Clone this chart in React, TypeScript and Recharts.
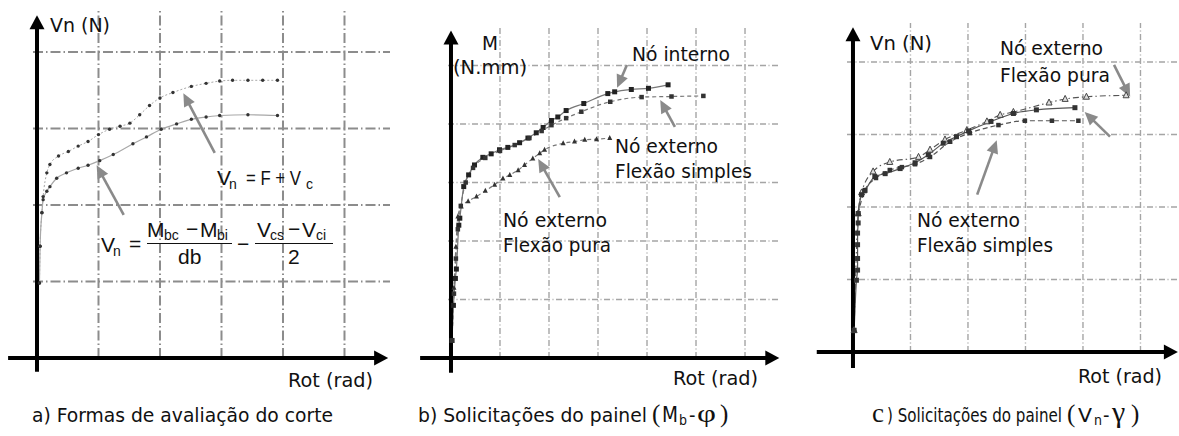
import React from 'react';
import { LineChart, Line, XAxis, YAxis, ReferenceLine } from 'recharts';

// all values are in grid units (one dashed grid cell = 1)

// a) Formas de avaliação do corte
const rotA_total = [0.04, 0.05, 0.08, 0.1, 0.16, 0.21, 0.35, 0.51, 0.67, 0.83, 1.0, 1.18, 1.35, 1.51, 1.67, 1.83, 2.0, 2.21, 2.51, 2.75, 2.97, 3.18, 3.43, 3.67, 3.91];
const vnA_total = [0.98, 1.46, 1.9, 2.11, 2.42, 2.53, 2.64, 2.7, 2.77, 2.83, 2.92, 2.99, 3.03, 3.07, 3.18, 3.3, 3.4, 3.47, 3.55, 3.59, 3.62, 3.63, 3.63, 3.63, 3.63];
const rotA_moment = [0.04, 0.05, 0.08, 0.1, 0.16, 0.21, 0.32, 0.48, 0.67, 0.83, 1.02, 1.24, 1.56, 1.78, 2.02, 2.27, 2.51, 2.75, 2.97, 3.43, 3.91];
const vnA_moment = [0.98, 1.46, 1.9, 2.07, 2.18, 2.24, 2.35, 2.42, 2.48, 2.52, 2.58, 2.66, 2.8, 2.89, 2.99, 3.06, 3.12, 3.15, 3.17, 3.18, 3.17];

// b) Solicitações do painel (Mb-φ)
const rotB_interno = [0.02, 0.05, 0.09, 0.11, 0.16, 0.18, 0.26, 0.36, 0.48, 0.65, 0.82, 0.99, 1.16, 1.4, 1.57, 1.74, 1.88, 2.05, 2.18, 2.35, 2.71, 3.2, 3.34, 3.68, 4.03, 4.43];
const mB_interno = [0.3, 0.9, 1.36, 1.52, 2.27, 2.39, 2.93, 3.13, 3.3, 3.43, 3.49, 3.56, 3.6, 3.68, 3.76, 3.85, 3.94, 4.06, 4.12, 4.23, 4.35, 4.52, 4.55, 4.59, 4.61, 4.67];
const rotB_simples = [0.02, 0.06, 0.1, 0.14, 0.2, 0.3, 0.45, 0.7, 1.0, 1.3, 1.6, 1.85, 2.05, 2.35, 2.66, 3.25, 3.89, 4.5, 5.15];
const mB_simples = [0.3, 1.1, 1.7, 2.2, 2.6, 3.0, 3.25, 3.42, 3.54, 3.64, 3.76, 3.88, 3.98, 4.1, 4.21, 4.38, 4.46, 4.47, 4.48];
const rotB_pura = [0.02, 0.06, 0.1, 0.14, 0.21, 0.35, 0.52, 0.7, 0.89, 1.06, 1.2, 1.37, 1.5, 1.67, 1.81, 1.91, 2.29, 2.52, 2.73, 2.97, 3.24];
const mB_pura = [0.3, 1.2, 1.9, 2.42, 2.59, 2.68, 2.76, 2.86, 2.96, 3.07, 3.13, 3.21, 3.3, 3.41, 3.5, 3.56, 3.67, 3.7, 3.73, 3.74, 3.76];

// c) Solicitações do painel (Vn-γ)
const rotC_pura = [0.02, 0.09, 0.15, 0.35, 0.64, 1.14, 1.34, 1.6, 1.98, 2.33, 2.56, 2.79, 3.41, 3.69, 4.06, 4.75];
const vnC_pura = [0.3, 1.91, 2.2, 2.49, 2.62, 2.69, 2.79, 2.93, 3.06, 3.18, 3.27, 3.31, 3.44, 3.49, 3.52, 3.54];
const rotC_simples1 = [0.02, 0.06, 0.08, 0.08, 0.08, 0.08, 0.09, 0.09, 0.15, 0.21, 0.38, 0.56, 0.82, 1.08, 1.31, 1.57, 1.8, 2.01, 2.4, 2.79, 3.19, 3.86];
const vnC_simples1 = [0.3, 0.99, 1.13, 1.29, 1.48, 1.64, 1.78, 1.91, 2.17, 2.23, 2.42, 2.46, 2.53, 2.61, 2.72, 2.88, 2.97, 3.05, 3.18, 3.29, 3.34, 3.37];
const rotC_simples2 = [0.09, 0.2, 0.4, 0.64, 0.85, 1.08, 1.34, 1.69, 2.03, 2.53, 2.99, 3.46, 3.92];
const vnC_simples2 = [1.91, 2.22, 2.4, 2.51, 2.55, 2.59, 2.69, 2.9, 3.02, 3.13, 3.19, 3.19, 3.19];

const gridA_x = [1, 2, 3, 4, 5];
const gridA_y = [1, 2, 3, 4];
const gridB_x = [1, 2, 3, 4, 5, 6];
const gridB_y = [1, 2, 3, 4, 5];
const gridC_x = [1, 2, 3, 4, 5];
const gridC_y = [1, 2, 3, 4];

const zip = (xs: number[], ys: number[]) => xs.map((x, i) => ({ x, y: ys[i] }));

const SANS = "'DejaVu Sans Condensed', 'DejaVu Sans', sans-serif";
const ARIAL = "'Liberation Sans', Arial, sans-serif";
const SERIF = "'Liberation Serif', 'DejaVu Serif', serif";

const arrowShape = (color: string, w: number, headL: number, headW: number) => (p: any) => {
  const { x1, y1, x2, y2 } = p;
  const dx = x2 - x1;
  const dy = y2 - y1;
  const len = Math.hypot(dx, dy) || 1;
  const ux = dx / len;
  const uy = dy / len;
  const bx = x2 - ux * headL;
  const by = y2 - uy * headL;
  const nx = -uy * headW / 2;
  const ny = ux * headW / 2;
  return (
    <g>
      <line x1={x1} y1={y1} x2={bx + ux} y2={by + uy} stroke={color} strokeWidth={w} />
      <polygon points={`${x2},${y2} ${bx + nx},${by + ny} ${bx - nx},${by - ny}`} fill={color} />
    </g>
  );
};

const roundDot = (r: number, fill: string) => (p: any) => (
  <circle key={p.index} cx={p.cx} cy={p.cy} r={r} fill={fill} />
);
const squareDot = (s: number, fill: string) => (p: any) => (
  <rect key={p.index} x={p.cx - s / 2} y={p.cy - s / 2} width={s} height={s} fill={fill} />
);
const triDot = (s: number, fill: string, stroke?: string) => (p: any) => (
  <polygon
    key={p.index}
    points={`${p.cx},${p.cy - s * 0.6} ${p.cx - s / 2},${p.cy + s * 0.4} ${p.cx + s / 2},${p.cy + s * 0.4}`}
    fill={fill}
    stroke={stroke || 'none'}
    strokeWidth={1}
  />
);

type Series = { data: { x: number; y: number }[]; stroke: string; dash?: string; width: number; dot: any };
type Arrow = [number, number, number, number];

interface PanelProps {
  left: number;
  width: number;
  height: number;
  margin: { top: number; right: number; bottom: number; left: number };
  xDomain: [number, number];
  yDomain: [number, number];
  gridX: number[];
  gridY: number[];
  gridColor: string;
  gridWidth: number;
  gridDash: string;
  xAxisExt: [number, number];
  yAxisExt: [number, number];
  series: Series[];
  arrows: Arrow[];
}

const Panel: React.FC<PanelProps> = (p) => {
  const axis = arrowShape('#000', 4, 14, 15);
  const pointer = arrowShape('#8a8a8a', 2.6, 13, 12);
  return (
    <div style={{ position: 'absolute', left: p.left, top: 0 }}>
      <LineChart width={p.width} height={p.height} margin={p.margin}>
        <XAxis type="number" dataKey="x" domain={p.xDomain} allowDataOverflow tick={false} axisLine={false} tickLine={false} height={0} />
        <YAxis type="number" dataKey="y" domain={p.yDomain} allowDataOverflow tick={false} axisLine={false} tickLine={false} width={0} />
        {p.gridX.map((v) => (
          <ReferenceLine key={'gx' + v} x={v} stroke={p.gridColor} strokeWidth={p.gridWidth} strokeDasharray={p.gridDash} />
        ))}
        {p.gridY.map((v) => (
          <ReferenceLine key={'gy' + v} y={v} stroke={p.gridColor} strokeWidth={p.gridWidth} strokeDasharray={p.gridDash} />
        ))}
        {p.series.map((s, i) => (
          <Line
            key={i}
            data={s.data}
            dataKey="y"
            type="monotone"
            stroke={s.stroke}
            strokeWidth={s.width}
            strokeDasharray={s.dash}
            dot={s.dot}
            activeDot={false}
            isAnimationActive={false}
          />
        ))}
        <ReferenceLine segment={[{ x: p.xAxisExt[0], y: 0 }, { x: p.xAxisExt[1], y: 0 }]} ifOverflow="visible" shape={axis} />
        <ReferenceLine segment={[{ x: 0, y: p.yAxisExt[0] }, { x: 0, y: p.yAxisExt[1] }]} ifOverflow="visible" shape={axis} />
        {p.arrows.map((a, i) => (
          <ReferenceLine key={'ar' + i} segment={[{ x: a[0], y: a[1] }, { x: a[2], y: a[3] }]} ifOverflow="visible" shape={pointer} />
        ))}
      </LineChart>
    </div>
  );
};

const T: React.FC<{ x: number; y: number; w?: number; size?: number; font?: string; children: React.ReactNode }> = ({ x, y, w, size = 20, font = SANS, children }) => (
  <text
    x={x}
    y={y}
    fontSize={size}
    fontFamily={font}
    fill="#111"
    textLength={w}
    lengthAdjust={w ? 'spacingAndGlyphs' : undefined}
  >
    {children}
  </text>
);

export default function App() {
  return (
    <div style={{ position: 'absolute', left: 0, top: 0, width: 1179, height: 436, background: '#fff', overflow: 'hidden' }}>
      <Panel
        left={0}
        width={392}
        height={380}
        margin={{ top: 10, right: 2, bottom: 22, left: 33 }}
        xDomain={[-0.065, 5.74]}
        yDomain={[0, 4.549]}
        gridX={gridA_x}
        gridY={gridA_y}
        gridColor="#8c8c8c"
        gridWidth={2}
        gridDash="10 3 1.5 3"
        xAxisExt={[-0.47, 5.71]}
        yAxisExt={[-0.18, 4.48]}
        series={[
          { data: zip(rotA_total, vnA_total), stroke: '#a8a8a8', dash: '2 2', width: 1, dot: roundDot(1.7, '#333') },
          { data: zip(rotA_moment, vnA_moment), stroke: '#a8a8a8', width: 1.2, dot: roundDot(1.7, '#333') },
        ]}
        arrows={[
          [2.89, 2.68, 2.38, 3.46],
          [1.41, 1.87, 0.97, 2.52],
        ]}
      />
      <Panel
        left={392}
        width={390}
        height={380}
        margin={{ top: 28, right: 2, bottom: 22, left: 56 }}
        xDomain={[-0.061, 6.714]}
        yDomain={[0, 5.641]}
        gridX={gridB_x}
        gridY={gridB_y}
        gridColor="#a5a5a5"
        gridWidth={1.4}
        gridDash="6 2.5 1 2.5"
        xAxisExt={[-0.63, 6.7]}
        yAxisExt={[-0.25, 5.6]}
        series={[
          { data: zip(rotB_interno, mB_interno), stroke: '#777', width: 1.2, dot: squareDot(5, '#222') },
          { data: zip(rotB_simples, mB_simples), stroke: '#777', dash: '4 3', width: 1.2, dot: squareDot(4.5, '#333') },
          { data: zip(rotB_pura, mB_pura), stroke: '#777', dash: '4 3', width: 1.2, dot: triDot(5, '#333') },
        ]}
        arrows={[
          [3.59, 5.01, 3.39, 4.62],
          [4.57, 3.95, 4.27, 4.41],
          [2.22, 2.75, 1.78, 3.4],
        ]}
      />
      <Panel
        left={782}
        width={397}
        height={380}
        margin={{ top: 23, right: 0, bottom: 28, left: 65 }}
        xDomain={[-0.104, 5.67]}
        yDomain={[0, 4.538]}
        gridX={gridC_x}
        gridY={gridC_y}
        gridColor="#a5a5a5"
        gridWidth={1.4}
        gridDash="6 2.5 1 2.5"
        xAxisExt={[-0.63, 5.65]}
        yAxisExt={[-0.22, 4.48]}
        series={[
          { data: zip(rotC_pura, vnC_pura), stroke: '#555', dash: '6 3 1.5 3', width: 1.1, dot: triDot(6, '#ddd', '#444') },
          { data: zip(rotC_simples1, vnC_simples1), stroke: '#555', width: 1.2, dot: squareDot(5, '#333') },
          { data: zip(rotC_simples2, vnC_simples2), stroke: '#555', dash: '5 3', width: 1.2, dot: squareDot(4.5, '#333') },
        ]}
        arrows={[
          [4.54, 3.96, 4.82, 3.52],
          [4.47, 2.97, 4.03, 3.31],
          [2.16, 2.17, 2.5, 2.92],
        ]}
      />

      <svg width={1179} height={436} style={{ position: 'absolute', left: 0, top: 0, pointerEvents: 'none' }}>
        {/* panel a */}
        <T x={50} y={32} w={60}>Vn (N)</T>
        <T x={288} y={387} w={85}>Rot (rad)</T>
        <T x={217} y={185} size={21} font={ARIAL}>V</T>
        <T x={229} y={189} size={14} font={ARIAL}>n</T>
        <T x={246} y={185} size={21} font={ARIAL} w={55}>= F + V</T>
        <T x={306} y={189} size={14} font={ARIAL}>c</T>

        <T x={101} y={252} size={21} font={ARIAL}>V</T>
        <T x={113} y={256} size={14} font={ARIAL}>n</T>
        <T x={129} y={251} size={21} font={ARIAL}>=</T>
        <T x={147} y={237} size={21} font={ARIAL}>M</T>
        <T x={164} y={240} size={14} font={ARIAL}>bc</T>
        <T x={186} y={236} size={21} font={ARIAL}>−</T>
        <T x={200} y={237} size={21} font={ARIAL}>M</T>
        <T x={217} y={240} size={14} font={ARIAL}>bi</T>
        <line x1={147} y1={243.5} x2={232} y2={243.5} stroke="#111" strokeWidth={1.2} />
        <T x={178} y={264} size={21} font={ARIAL}>db</T>
        <T x={237} y={251} size={21} font={ARIAL}>−</T>
        <T x={257} y={237} size={21} font={ARIAL}>V</T>
        <T x={270} y={240} size={14} font={ARIAL}>cs</T>
        <T x={288} y={236} size={21} font={ARIAL}>−</T>
        <T x={302} y={237} size={21} font={ARIAL}>V</T>
        <T x={316} y={240} size={14} font={ARIAL}>ci</T>
        <line x1={255} y1={243.5} x2={333} y2={243.5} stroke="#111" strokeWidth={1.2} />
        <T x={288} y={264} size={21} font={ARIAL}>2</T>

        {/* panel b */}
        <T x={482} y={50} w={16}>M</T>
        <T x={453} y={74} w={74}>(N.mm)</T>
        <T x={632} y={61} w={98}>Nó interno</T>
        <T x={615} y={153} w={103}>Nó externo</T>
        <T x={615} y={178} w={137}>Flexão simples</T>
        <T x={503} y={227} w={104}>Nó externo</T>
        <T x={503} y={252} w={108}>Flexão pura</T>
        <T x={673} y={385} w={85}>Rot (rad)</T>

        {/* panel c */}
        <T x={870} y={50} w={62}>Vn (N)</T>
        <T x={1000} y={55} w={103}>Nó externo</T>
        <T x={1000} y={82} w={110}>Flexão pura</T>
        <T x={917} y={227} w={103}>Nó externo</T>
        <T x={917} y={252} w={136}>Flexão simples</T>
        <T x={1078} y={383} w={84}>Rot (rad)</T>

        {/* captions */}
        <T x={32} y={422} w={301}>a) Formas de avaliação do corte</T>
        <T x={418} y={422} w={229}>b) Solicitações do painel</T>
        <T x={652} y={422} size={25} font={SERIF}>(</T>
        <T x={662} y={422} w={16} size={21}>M</T>
        <T x={679} y={425} size={14}>b</T>
        <T x={689} y={422} size={20}>-</T>
        <T x={697} y={422} size={25} font={SERIF} w={19}>φ</T>
        <T x={720} y={422} size={25} font={SERIF}>)</T>

        <T x={872} y={422} size={27} font={SERIF}>c</T>
        <T x={887} y={422} w={175}>) Solicitações do painel</T>
        <T x={1067} y={422} size={25} font={SERIF}>(</T>
        <T x={1078} y={422} w={14} size={20}>V</T>
        <T x={1094} y={425} size={14}>n</T>
        <T x={1103} y={422} size={20}>-</T>
        <T x={1112} y={422} size={30} font={SERIF}>γ</T>
        <T x={1131} y={422} size={25} font={SERIF}>)</T>
      </svg>
    </div>
  );
}
